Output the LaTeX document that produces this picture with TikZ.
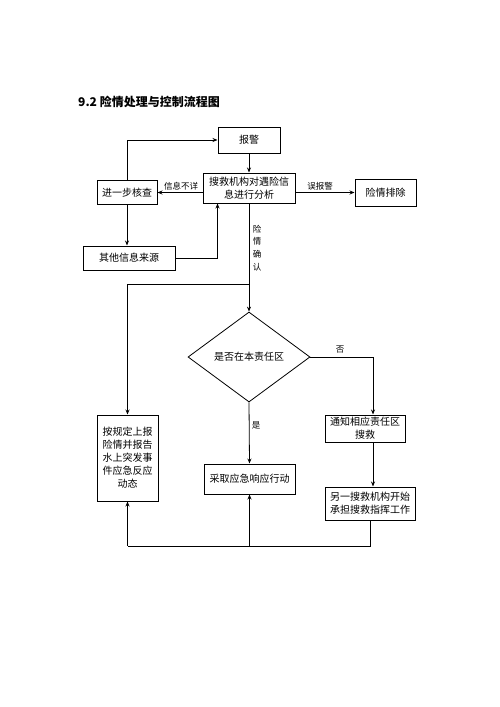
\documentclass[tikz,border=0pt]{standalone}
\usepackage{fontspec}
\setmainfont{Noto Sans CJK SC}
\usetikzlibrary{shapes.geometric,arrows.meta}
\begin{document}
\begin{tikzpicture}[x=1pt,y=-1pt,
 box/.style={draw,line width=1pt,inner sep=0pt,align=center,font=\fontsize{10}{13}\selectfont},
 lbl/.style={font=\fontsize{8.5}{12.7}\selectfont,inner sep=0pt,align=center},
 arr/.style={line width=0.8pt,-{Stealth[length=5pt,width=4pt]}},
 ln/.style={line width=0.8pt}]
\useasboundingbox[fill=white] (0,0) rectangle (500,707);
\node[anchor=west,font=\fontsize{12}{14}\selectfont\bfseries,inner sep=0pt] (title) at (78,102) {9.2 险情处理与控制流程图};
\node[box,minimum width=62pt,minimum height=26pt] (bj) at (249,140) {报警};
\node[box,minimum width=92pt,minimum height=30pt] (fx) at (249,188) {搜救机构对遇险信\\息进行分析};
\node[box,minimum width=60pt,minimum height=24pt] (hc) at (127,192.5) {进一步核查};
\node[box,minimum width=92pt,minimum height=24pt] (ly) at (129,258) {其他信息来源};
\node[box,minimum width=61pt,minimum height=27pt] (pc) at (385.5,192.5) {险情排除};
\node[box,shape=diamond,aspect=1.36,minimum width=122pt,minimum height=90pt,line width=0.8pt] (dm) at (249,357) {是否在本责任区};
\node[box,minimum width=61pt,minimum height=86pt] (bg) at (127.5,458) {按规定上报\\险情并报告\\水上突发事\\件应急反应\\动态};
\node[box,minimum width=91pt,minimum height=30pt] (cq) at (249.5,479) {采取应急响应行动};
\node[box,minimum width=80pt,minimum height=27pt] (tz) at (365,428.5) {通知相应责任区\\搜救};
\node[box,minimum width=90pt,minimum height=33pt] (lq) at (370,503.5) {另一搜救机构开始\\承担搜救指挥工作};
% labels
\node[lbl] (l1) at (181,186) {信息不详};
\node[lbl] (l2) at (320,186) {误报警};
\node[lbl] (l3) at (257,248) {险\\情\\确\\认};
\node[lbl] (l4) at (340,350) {否};
\node[lbl] (l5) at (256,425) {是};
% connectors
\draw[arr] (bj) -- (fx);
\draw[arr] (hc.north) |- (bj.west);
\draw[arr] (fx.west |- hc.east) -- (hc.east);
\draw[arr] (fx.east |- pc.west) -- (pc.west);
\draw[arr] (hc.south) -- (hc.south |- ly.north);
\draw[arr] (ly.east) -| ([xshift=15pt]fx.south west);
\draw[arr] (fx.south) -- (dm.north);
\draw[arr] (fx.south |- 0,284) -| (bg.north);
\draw[arr] (dm.east) -| ([xshift=8pt]tz.north);
\draw[arr] ([xshift=8pt]tz.south) -- ([xshift=8pt]tz.south |- lq.north);
\draw[arr] (dm.south) -- (cq.north);
\coordinate (bt) at (lq.south |- 0,546);
\draw[ln] (lq.south) -- (bt) -- (bt -| bg.south);
\draw[arr] (bt -| bg.south) -- (bg.south);
\draw[arr] (bt -| cq.south) -- (cq.south);
\end{tikzpicture}
\end{document}
